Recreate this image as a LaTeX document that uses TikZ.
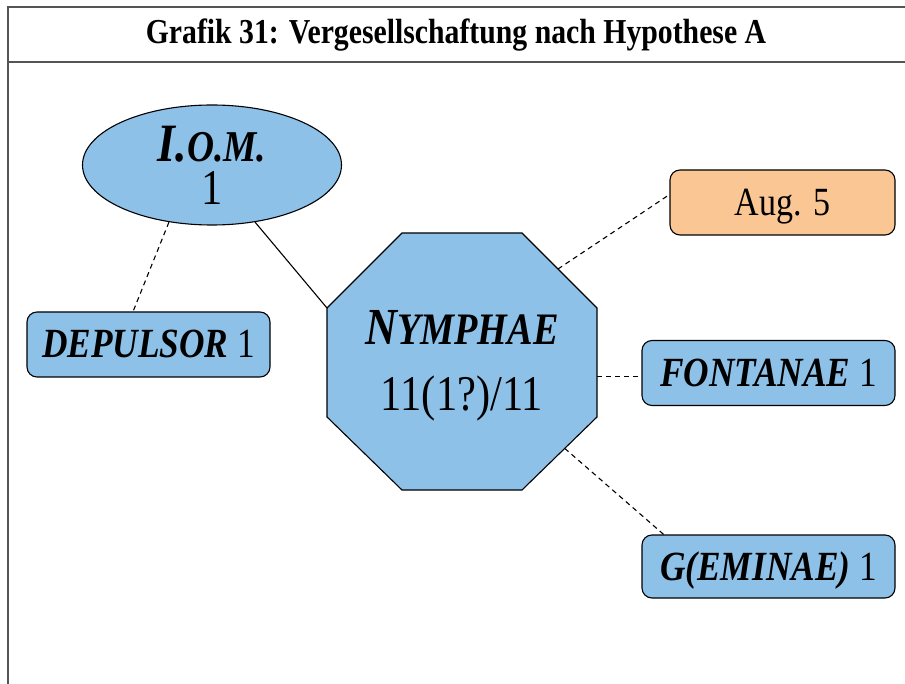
\documentclass[tikz,border=0pt]{standalone}
\usepackage{fontspec}
\setmainfont{Liberation Serif}[FakeStretch=0.85]
\usepackage{tikz}
\usetikzlibrary{positioning,shapes.geometric,calc}
\definecolor{skyfill}{RGB}{142,193,232}
\definecolor{peachfill}{RGB}{250,199,148}
\definecolor{framegray}{RGB}{85,85,85}
\newcommand{\smallcapsize}{\fontsize{45}{48}\selectfont}

\begin{document}
\begin{tikzpicture}[
  x=1pt, y=-1pt,
  godbox/.style={rectangle, rounded corners=10pt, draw=black, fill=skyfill,
                 line width=1.1pt, minimum height=65pt, inner sep=0pt,
                 text height=27pt, text depth=0pt,
                 align=center, font=\fontsize{41.5}{44}\selectfont},
  mainnode/.style={draw=black, fill=skyfill, line width=1.1pt, inner sep=0pt,
                   align=center},
  solidlink/.style={line width=1.1pt},
  dashlink/.style={line width=1.1pt, dash pattern=on 5pt off 4pt},
]
  \useasboundingbox (0,0) rectangle (905,684);

  % Frame and title
  \draw[framegray, line width=2pt] (905,7) -- (8,7) -- (8,684);
  \draw[framegray, line width=2pt] (8,62) -- (905,62);
  \node[font=\fontsize{35}{40}\selectfont\bfseries] (title) at (456,35)
    {Grafik 31: Vergesellschaftung nach Hypothese A};

  % I.O.M.
  \node[mainnode, ellipse, minimum width=259pt, minimum height=120pt,
        font=\fontsize{50}{43}\selectfont] (iom) at (212,165)
    {{\fontsize{54}{43}\selectfont\bfseries\itshape I.{\fontsize{44}{43}\selectfont O.M.}}\\1};

  % Nymphae octagon
  \coordinate (o1) at (402,233);
  \coordinate (o2) at (522,233);
  \coordinate (o3) at (597,308);
  \coordinate (o4) at (597,417);
  \coordinate (o5) at (522,490);
  \coordinate (o6) at (402,490);
  \coordinate (o7) at (327,417);
  \coordinate (o8) at (327,308);
  \draw[mainnode] (o1) -- (o2) -- (o3) -- (o4) -- (o5) -- (o6) -- (o7) -- (o8) -- cycle;
  \node[align=center, inner sep=0pt, font=\fontsize{50}{66}\selectfont] (nym) at (462,366)
    {{\fontsize{52}{66}\selectfont\bfseries\itshape N{\smallcapsize YMPHAE}}\\11(1?)/11};
  \coordinate (nymne) at ($(o2)!0.48!(o3)$);
  \coordinate (nymea) at ($(o3)!0.63!(o4)$);
  \coordinate (nymse) at ($(o4)!0.43!(o5)$);

  % Boxes
  \node[godbox, minimum width=243pt] (dep) at (148.5,344.5)
    {{\bfseries\itshape DEPULSOR} 1};
  \node[godbox, fill=peachfill, minimum width=225pt, yshift=-2pt,
        font=\fontsize{40}{44}\selectfont] (aug) at (782.5,200.5)
    {Aug. 5};
  \node[godbox, minimum width=253pt] (fon) at (768.5,373)
    {{\bfseries\itshape FONTANAE} 1};
  \node[godbox, minimum width=253pt, minimum height=63pt] (gem) at (768.5,566.5)
    {{\bfseries\itshape G(EMINAE)} 1};

  % Links
  \draw[solidlink] (iom.-53) -- (o8);
  \draw[dashlink] (iom.-127) -- (dep.115);
  \draw[dashlink] (nymne) -- (aug.176);
  \draw[dashlink] (nymea) -- (nymea -| fon.west);
  \draw[dashlink] (nymse) -- (gem.163);
\end{tikzpicture}
\end{document}
